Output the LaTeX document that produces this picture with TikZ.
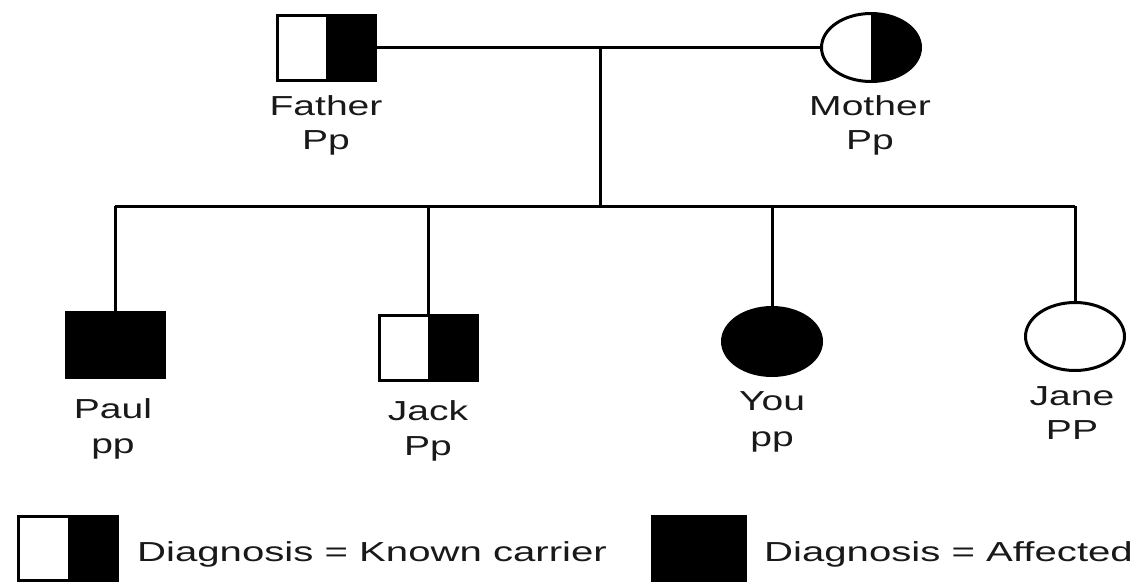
\documentclass[tikz,border=0pt]{standalone}
\usepackage{fontspec}
\setmainfont{Liberation Sans}
\usetikzlibrary{shapes.geometric}
\begin{document}
\begin{tikzpicture}[x=1pt,y=-1pt,
  line width=3pt,
  person/.style={draw=black,line width=3pt,inner sep=0pt,fill=white},
  male/.style={person,rectangle,minimum width=98pt,minimum height=65pt},
  female/.style={person,ellipse,minimum width=99pt,minimum height=68pt},
  affected/.style={fill=black},
  carrier/.style={path picture={\fill[black] (path picture bounding box.north) rectangle (path picture bounding box.south east);}},
  txt/.style={font=\fontsize{27.5}{33}\selectfont,inner sep=0pt,text=black!90},
  lbl/.style={txt,xscale=1.42,anchor=base},
  leg/.style={txt,xscale=1.46,anchor=base west},
  link/.style={draw=black,line width=3pt}]
\clip (0,0) rectangle (1144,582);
\fill[white] (0,0) rectangle (1144,582);

% parents
\node[male,carrier] (father) at (326,47.5) {};
\node[female,carrier] (mother) at (871,47.5) {};
\node[lbl] (fatherN) at (326,115) {Father};
\node[lbl] (fatherG) at (326,149) {Pp};
\node[lbl] (motherN) at (870,115) {Mother};
\node[lbl] (motherG) at (870,149) {Pp};

% children
\node[male,affected] (paul) at (115,345) {};
\node[male,carrier] (jack) at (428,347.5) {};
\node[female,affected] (you) at (772,341.5) {};
\node[female] (jane) at (1075,336.5) {};
\node[lbl] (paulN) at (113,418) {Paul};
\node[lbl] (paulG) at (113,453) {pp};
\node[lbl] (jackN) at (428,420) {Jack};
\node[lbl] (jackG) at (428,455) {Pp};
\node[lbl] (youN) at (772,410) {You};
\node[lbl] (youG) at (772,446) {pp};
\node[lbl] (janeN) at (1072,405) {Jane};
\node[lbl] (janeG) at (1072,439) {PP};

% marriage line, descent line and sibship line
\coordinate (mate) at (600,47);
\coordinate (sib) at (600,206);
\draw[link] (father.east) -- (mother.west);
\draw[link] (mate) -- (sib);
\draw[link] (paul |- sib) -- (jane |- sib);
\foreach \c in {paul,jack,you,jane}
  \draw[link] (\c |- sib) -- (\c.north);

% legend
\node[male,carrier,minimum width=99pt,minimum height=64pt] (legC) at (67.5,548) {};
\node[male,affected,minimum width=93pt,minimum height=64pt] (legA) at (698.5,548) {};
\node[leg] (legCt) at (135,561) {Diagnosis = Known carrier};
\node[leg] (legAt) at (762,561) {Diagnosis = Affected};
\end{tikzpicture}
\end{document}
